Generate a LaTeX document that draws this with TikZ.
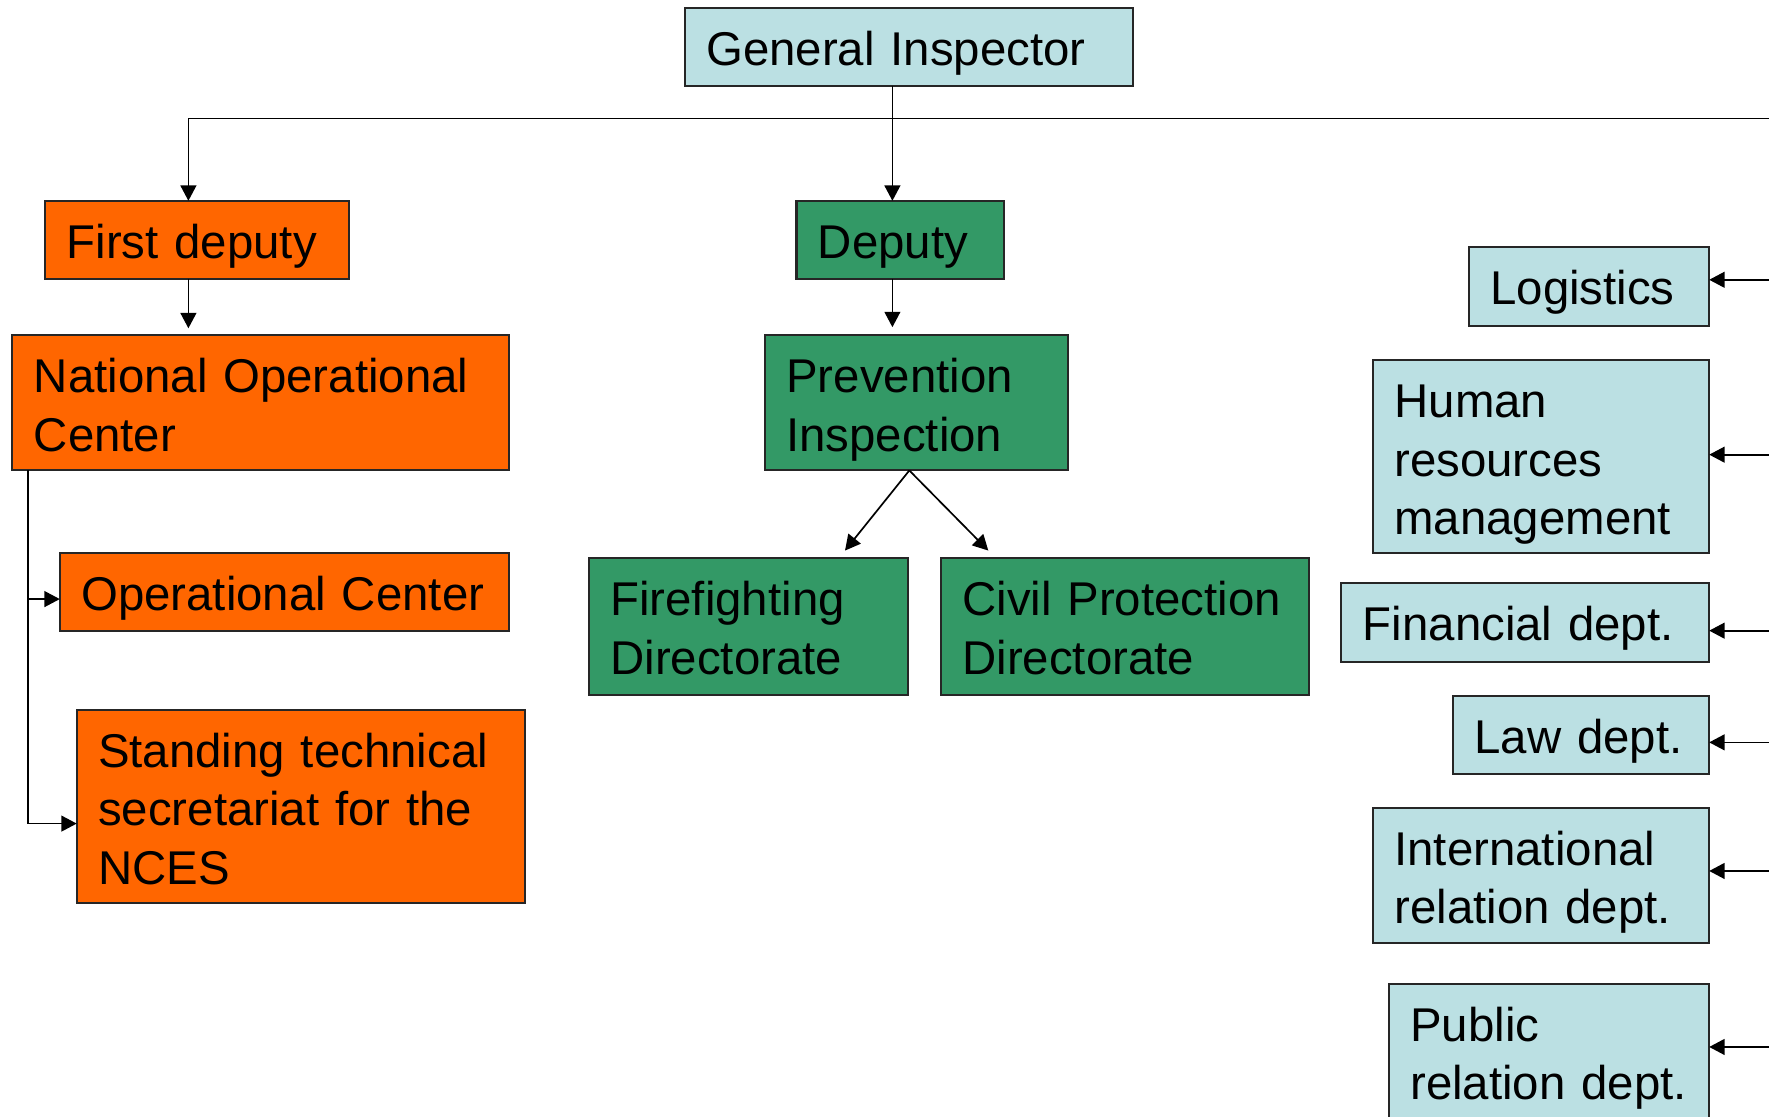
\documentclass[tikz,border=0pt]{standalone}
\usepackage{fontspec}
\setmainfont{Liberation Sans}
\usetikzlibrary{arrows.meta,calc}
\definecolor{ltblue}{HTML}{BBE0E3}
\definecolor{orng}{HTML}{FF6600}
\definecolor{grn}{HTML}{339966}
\begin{document}
\begin{tikzpicture}[x=0.5pt,y=-0.5pt,
  bx/.style n args={2}{draw=black!85, line width=0.9pt, anchor=north west,
    inner xsep=9.5pt, inner ysep=0pt, outer sep=0pt,
    minimum width=#1*0.5pt, text width=#1*0.5pt-19pt,
    text height=25.5pt, text depth=#2*0.5pt-25.5pt, align=left,
    font=\fontsize{21pt}{26pt}\selectfont},
  arr/.style={-{Triangle[length=6.8pt,width=7pt]}, line width=0.75pt},
  ln/.style={line width=0.75pt}]
\useasboundingbox (0,0) rectangle (1568,990);
\clip (0,0) rectangle (1568,990);
% nodes
\node[bx={397}{69},fill=ltblue] (gi) at (607,7) {General Inspector};
\node[bx={269}{69},fill=orng] (fd) at (40,178) {First deputy};
\node[bx={184}{69},fill=grn] (dep) at (706,178) {Deputy};
\node[bx={440}{120},fill=orng] (noc) at (11,297) {\mbox{National Operational}\\Center};
\node[bx={398}{69},fill=orng] (oc) at (53,490) {\mbox{Operational Center}};
\node[bx={397}{171},fill=orng] (st) at (68,629) {\mbox{Standing technical}\\\mbox{secretariat for the}\\NCES};
\node[bx={269}{120},fill=grn] (pi) at (678,297) {Prevention\\Inspection};
\node[bx={283}{121},fill=grn] (ff) at (522,495) {Firefighting\\Directorate};
\node[bx={326}{121},fill=grn] (cp) at (834,495) {\mbox{Civil Protection}\\Directorate};
\node[bx={213}{70},fill=ltblue] (log) at (1302,219) {Logistics};
\node[bx={298}{171},fill=ltblue] (hr) at (1217,319) {Human\\resources\\management};
\node[bx={326}{70},fill=ltblue] (fin) at (1189,517) {\mbox{Financial dept.}};
\node[bx={227}{69},fill=ltblue] (law) at (1288,617) {\mbox{Law dept.}};
\node[bx={298}{120},fill=ltblue] (int) at (1217,716) {International\\\mbox{relation dept.}};
\node[bx={284}{120},fill=ltblue] (pub) at (1231,872) {Public\\\mbox{relation dept.}};
% coordinates
\coordinate (busL) at (167,105);
\coordinate (busR) at (1568,105);
\coordinate (vx) at (791,0);
\coordinate (pbx) at (806,0);
\coordinate (ffT) at (749,488);
\coordinate (cpT) at (876,488);
\coordinate (tx) at (25,0);
\coordinate (ocA) at (25,531);
\coordinate (stA) at (25,730);
\coordinate (rLog) at (1568,248);
\coordinate (rHr) at (1568,403);
\coordinate (rFin) at (1568,559);
\coordinate (rLaw) at (1568,658);
\coordinate (rInt) at (1568,772);
\coordinate (rPub) at (1568,928);
% connectors
\draw[ln] (busL) -- (busR);
\draw[arr] (gi.south -| vx) -- (dep.north -| vx);
\draw[arr] (busL) -- (fd.north -| busL);
\draw[arr,shorten >=3pt] (fd.south -| busL) -- (noc.north -| busL);
\draw[arr,shorten >=3.5pt] (dep.south -| vx) -- (pi.north -| vx);
\draw[arr] (pi.south -| pbx) -- (ffT);
\draw[arr] (pi.south -| pbx) -- (cpT);
\draw[ln] (noc.south -| tx) -- (stA);
\draw[arr] (ocA) -- (oc.west |- ocA);
\draw[arr] (stA) -- (st.west |- stA);
\draw[arr] (rLog) -- (log.east |- rLog);
\draw[arr] (rHr) -- (hr.east |- rHr);
\draw[arr] (rFin) -- (fin.east |- rFin);
\draw[arr] (rLaw) -- (law.east |- rLaw);
\draw[arr] (rInt) -- (int.east |- rInt);
\draw[arr] (rPub) -- (pub.east |- rPub);
\end{tikzpicture}
\end{document}
